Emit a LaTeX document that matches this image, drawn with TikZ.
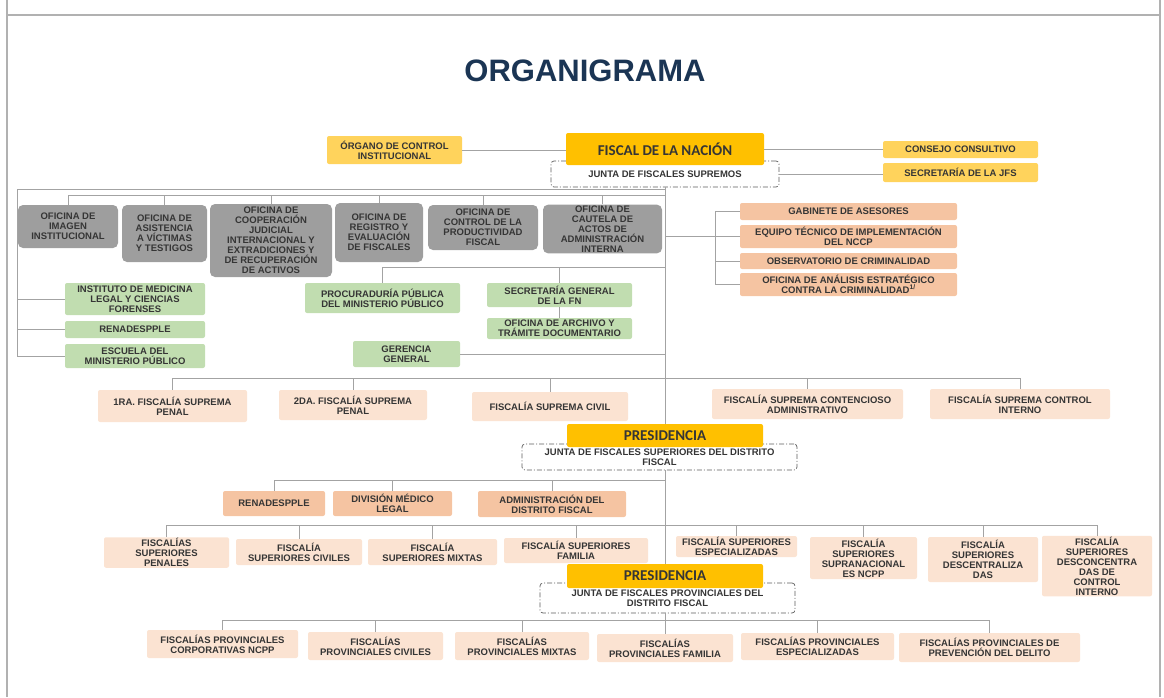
\documentclass[tikz,border=0pt]{standalone}
\usepackage{fontspec}
\setmainfont{Liberation Sans}
\newfontfamily\calfont{Carlito}
\usepackage{tikz}

\definecolor{goldc}{HTML}{FFC000}
\definecolor{yelc}{HTML}{FFD35C}
\definecolor{grayc}{HTML}{9E9E9E}
\definecolor{greenc}{HTML}{C1DDB0}
\definecolor{peachc}{HTML}{F5C4A2}
\definecolor{palec}{HTML}{FBE3D2}
\definecolor{txtc}{HTML}{353535}
\definecolor{lnc}{HTML}{A3A3A3}
\definecolor{titlec}{HTML}{1B3554}

\begin{document}
\begin{tikzpicture}[x=1pt, y=-1pt,
    box/.style={rectangle, rounded corners=2pt, align=center, inner sep=1pt,
                font=\fontsize{9.5}{10}\selectfont\bfseries, text=txtc},
    graybox/.style={box, fill=grayc, rounded corners=5pt},
    greenbox/.style={box, fill=greenc},
    peachbox/.style={box, fill=peachc},
    palebox/.style={box, fill=palec},
    yellowbox/.style={box, fill=yelc},
    headbox/.style={rectangle, rounded corners=2pt, fill=goldc, inner sep=1pt,
                    font=\calfont\fontsize{15}{15}\selectfont\bfseries, text=txtc},
    juntabox/.style={box, draw=txtc!80, fill=white, line width=0.7pt, rounded corners=3pt,
                     dash pattern=on 5pt off 2pt on 1pt off 2pt},
    conn/.style={draw=lnc, line width=1pt},
    frame/.style={draw=lnc!85, line width=1.2pt}
]
    \useasboundingbox (0,0) rectangle (1164,697);

    % page frame
    \draw[frame] (7,0) -- (7,697);
    \draw[frame] (1160,0) -- (1160,697);
    \draw[frame, line width=1.8pt] (7,15) -- (1160,15);

    \node[font=\fontsize{31}{31}\selectfont\bfseries, text=titlec] (title) at (585,71) {ORGANIGRAMA};

    % Fiscal de la Nacion
    \node[juntabox, minimum width=228pt, minimum height=26pt] (jfs) at (665,174) {JUNTA DE FISCALES SUPREMOS};
    \node[headbox, minimum width=198pt, minimum height=32pt] (fn) at (665,149) {FISCAL DE LA NACIÓN};
    \node[yellowbox, minimum width=135pt, minimum height=28pt] (oci) at (394.5,150) {ÓRGANO DE CONTROL\\INSTITUCIONAL};
    \node[yellowbox, minimum width=155pt, minimum height=17pt] (cc) at (960.5,149.5) {CONSEJO CONSULTIVO};
    \node[yellowbox, minimum width=155pt, minimum height=19pt] (sjfs) at (960.5,172.5) {SECRETARÍA DE LA JFS};

    % Oficinas
    \node[graybox, minimum width=100pt, minimum height=43pt] (oii) at (68,226.5) {OFICINA DE\\IMAGEN\\INSTITUCIONAL};
    \node[graybox, minimum width=85pt, minimum height=57pt] (oavt) at (164.5,233.5) {OFICINA DE\\ASISTENCIA\\A VÍCTIMAS\\Y TESTIGOS};
    \node[graybox, minimum width=122pt, minimum height=73pt] (ocji) at (271,240.5) {OFICINA DE\\COOPERACIÓN\\JUDICIAL\\INTERNACIONAL Y\\EXTRADICIONES Y\\DE RECUPERACIÓN\\DE ACTIVOS};
    \node[graybox, minimum width=88pt, minimum height=59pt] (oref) at (379,232.5) {OFICINA DE\\REGISTRO Y\\EVALUACIÓN\\DE FISCALES};
    \node[graybox, minimum width=110pt, minimum height=45pt] (ocpf) at (483,227.5) {OFICINA DE\\CONTROL DE LA\\PRODUCTIVIDAD\\FISCAL};
    \node[graybox, minimum width=119pt, minimum height=48pt] (ocai) at (602.5,229) {OFICINA DE\\CAUTELA DE\\ACTOS DE\\ADMINISTRACIÓN\\INTERNA};

    % apoyo
    \node[greenbox, minimum width=140pt, minimum height=32pt] (imlcf) at (135,299) {INSTITUTO DE MEDICINA\\LEGAL Y CIENCIAS\\FORENSES};
    \node[greenbox, minimum width=140pt, minimum height=17pt] (ren1) at (135,329.5) {RENADESPPLE};
    \node[greenbox, minimum width=140pt, minimum height=24pt] (emp) at (135,356) {ESCUELA DEL\\MINISTERIO PÚBLICO};
    \node[greenbox, minimum width=155pt, minimum height=30pt] (ppmp) at (382.5,298) {PROCURADURÍA PÚBLICA\\DEL MINISTERIO PÚBLICO};
    \node[greenbox, minimum width=145pt, minimum height=24pt] (sgfn) at (559.5,295) {SECRETARÍA GENERAL\\DE LA FN};
    \node[greenbox, minimum width=145pt, minimum height=21pt] (oatd) at (559.5,328.5) {OFICINA DE ARCHIVO Y\\TRÁMITE DOCUMENTARIO};
    \node[greenbox, minimum width=107pt, minimum height=26pt] (gg) at (406.5,354) {GERENCIA\\GENERAL};

    % asesoria
    \node[peachbox, minimum width=217pt, minimum height=17pt] (gab) at (848.5,211.5) {GABINETE DE ASESORES};
    \node[peachbox, minimum width=217pt, minimum height=23pt] (eti) at (848.5,236.5) {EQUIPO TÉCNICO DE IMPLEMENTACIÓN\\DEL NCCP};
    \node[peachbox, minimum width=217pt, minimum height=16pt] (obs) at (848.5,261) {OBSERVATORIO DE CRIMINALIDAD};
    \node[peachbox, minimum width=217pt, minimum height=23pt] (oae) at (848.5,284.5) {OFICINA DE ANÁLISIS ESTRATÉGICO\\CONTRA LA CRIMINALIDAD\textsuperscript{1/}};

    % Fiscalias supremas
    \node[palebox, minimum width=149pt, minimum height=32pt] (fs1) at (172.5,406) {1RA. FISCALÍA SUPREMA\\PENAL};
    \node[palebox, minimum width=148pt, minimum height=30pt] (fs2) at (353,405) {2DA. FISCALÍA SUPREMA\\PENAL};
    \node[palebox, minimum width=156pt, minimum height=29pt] (fsc) at (550,406.5) {FISCALÍA SUPREMA CIVIL};
    \node[palebox, minimum width=191pt, minimum height=30pt] (fsca) at (807.5,404) {FISCALÍA SUPREMA CONTENCIOSO\\ADMINISTRATIVO};
    \node[palebox, minimum width=180pt, minimum height=30pt] (fsci) at (1020,404) {FISCALÍA SUPREMA CONTROL\\INTERNO};

    % Presidencia - superiores
    \node[juntabox, minimum width=275pt, minimum height=26pt] (jfsd) at (659.5,457) {JUNTA DE FISCALES SUPERIORES DEL DISTRITO\\FISCAL};
    \node[headbox, minimum width=196pt, minimum height=23pt] (pres1) at (665,435.5) {PRESIDENCIA};
    \node[peachbox, minimum width=102pt, minimum height=25pt] (ren2) at (274,503.5) {RENADESPPLE};
    \node[peachbox, minimum width=119pt, minimum height=25pt] (dml) at (392.5,503.5) {DIVISIÓN MÉDICO\\LEGAL};
    \node[peachbox, minimum width=148pt, minimum height=26pt] (adf) at (552,504) {ADMINISTRACIÓN DEL\\DISTRITO FISCAL};

    \node[palebox, minimum width=125pt, minimum height=29pt] (fsp) at (166.5,552.5) {FISCALÍAS\\SUPERIORES\\PENALES};
    \node[palebox, minimum width=126pt, minimum height=26pt] (fscv) at (299,552) {FISCALÍA\\SUPERIORES CIVILES};
    \node[palebox, minimum width=129pt, minimum height=26pt] (fsm) at (432.5,552) {FISCALÍA\\SUPERIORES MIXTAS};
    \node[palebox, minimum width=144pt, minimum height=25pt] (fsf) at (576,550.5) {FISCALÍA SUPERIORES\\FAMILIA};
    \node[palebox, minimum width=121pt, minimum height=21pt] (fse) at (736.5,546.5) {FISCALÍA SUPERIORES\\ESPECIALIZADAS};
    \node[palebox, minimum width=107pt, minimum height=42pt] (fss) at (863.5,558) {FISCALÍA\\SUPERIORES\\SUPRANACIONAL\\ES NCPP};
    \node[palebox, minimum width=110pt, minimum height=45pt] (fsd) at (983,559.5) {FISCALÍA\\SUPERIORES\\DESCENTRALIZA\\DAS};
    \node[palebox, minimum width=110pt, minimum height=58pt] (fsdc) at (1097,566) {FISCALÍA\\SUPERIORES\\DESCONCENTRA\\DAS DE\\CONTROL\\INTERNO};

    % Presidencia - provinciales
    \node[juntabox, minimum width=255pt, minimum height=30pt, text depth=-4pt] (jfpd) at (667.5,598) {JUNTA DE FISCALES PROVINCIALES DEL\\DISTRITO FISCAL};
    \node[headbox, minimum width=196pt, minimum height=24pt] (pres2) at (665,576) {PRESIDENCIA};

    \node[palebox, minimum width=151pt, minimum height=28pt] (fpc) at (222.5,644) {FISCALÍAS PROVINCIALES\\CORPORATIVAS NCPP};
    \node[palebox, minimum width=135pt, minimum height=28pt] (fpcv) at (375.5,646) {FISCALÍAS\\PROVINCIALES CIVILES};
    \node[palebox, minimum width=134pt, minimum height=28pt] (fpm) at (522,646) {FISCALÍAS\\PROVINCIALES MIXTAS};
    \node[palebox, minimum width=136pt, minimum height=28pt] (fpf) at (665,648) {FISCALÍAS\\PROVINCIALES FAMILIA};
    \node[palebox, minimum width=153pt, minimum height=27pt] (fpe) at (817.5,646.5) {FISCALÍAS PROVINCIALES\\ESPECIALIZADAS};
    \node[palebox, minimum width=181pt, minimum height=29pt] (fpp) at (989.5,647.5) {FISCALÍAS PROVINCIALES DE\\PREVENCIÓN DEL DELITO};

    % connectors
    \coordinate (tk) at (665,0);
    \coordinate (lvt) at (17,189);
    \coordinate (gbus) at (17,195);
    \coordinate (rv) at (715,0);
    \coordinate (mbus) at (0,267);
    \coordinate (sbus) at (0,378);
    \coordinate (pbus) at (0,480);
    \coordinate (fbus) at (0,525);
    \coordinate (vbus) at (0,620);

    \draw[conn] (oci.east) -- (oci.east -| fn.west);
    \draw[conn] (fn.east) -- (fn.east -| cc.west);
    \draw[conn] (jfs.east) -- (jfs.east -| sjfs.west);

    \draw[conn] (jfs.south) -- (pres1.north);
    \draw[conn] (tk |- jfsd.south) -- (pres2.north);
    \draw[conn] (tk |- jfpd.south) -- (fpf.north);

    \draw[conn] (lvt |- emp.west) -- (lvt) -- (tk |- lvt);
    \draw[conn] (oii.north |- gbus) -- (tk |- gbus);
    \foreach \n in {oii,oavt,ocji,oref,ocpf,ocai}
        \draw[conn] (\n.north |- gbus) -- (\n.north);
    \foreach \n in {imlcf,ren1,emp}
        \draw[conn] (lvt |- \n.west) -- (\n.west);

    \draw[conn] (rv |- gab.west) -- (rv |- oae.west);
    \draw[conn] (tk |- eti.west) -- (rv |- eti.west);
    \foreach \n in {gab,eti,obs,oae}
        \draw[conn] (rv |- \n.west) -- (\n.west);

    \draw[conn] (ppmp.north) |- (tk |- mbus);
    \draw[conn] (sgfn.north |- mbus) -- (sgfn.north);
    \draw[conn] (sgfn.south) -- (oatd.north);
    \draw[conn] (gg.east) -- (tk |- gg.east);

    \draw[conn] (fs1.north |- sbus) -- (fsci.north |- sbus);
    \foreach \n in {fs1,fs2,fsc,fsca,fsci}
        \draw[conn] (\n.north |- sbus) -- (\n.north);

    \draw[conn] (ren2.north |- pbus) -- (tk |- pbus);
    \foreach \n in {ren2,dml,adf}
        \draw[conn] (\n.north |- pbus) -- (\n.north);

    \draw[conn] (fsp.north |- fbus) -- (fsdc.north |- fbus);
    \foreach \n in {fsp,fscv,fsm,fsf,fse,fss,fsd,fsdc}
        \draw[conn] (\n.north |- fbus) -- (\n.north);

    \draw[conn] (fpc.north |- vbus) -- (fpp.north |- vbus);
    \foreach \n in {fpc,fpcv,fpm,fpe,fpp}
        \draw[conn] (\n.north |- vbus) -- (\n.north);
\end{tikzpicture}
\end{document}
